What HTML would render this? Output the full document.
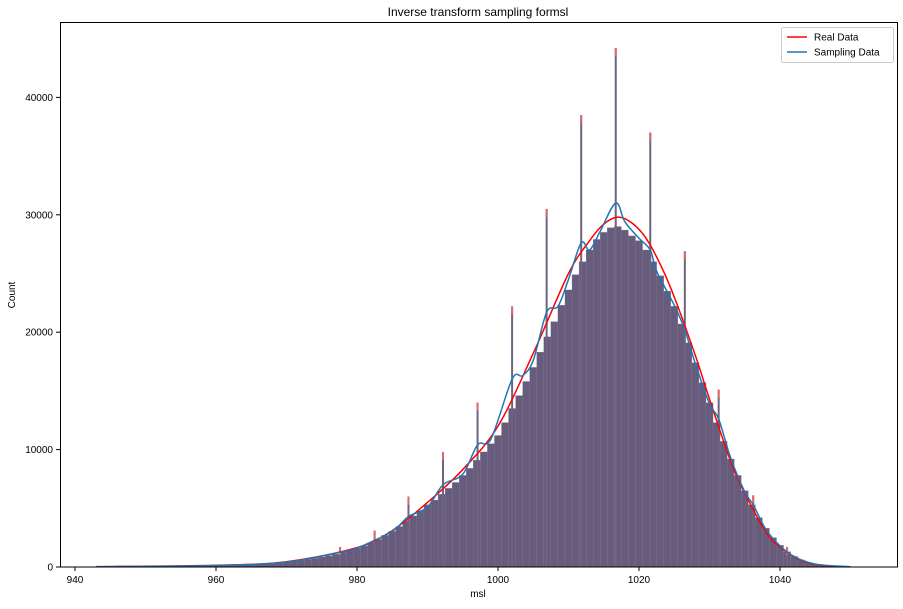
<!DOCTYPE html>
<html><head><meta charset="utf-8"><style>
body{margin:0;background:#fff;}
svg text{font-family:"Liberation Sans","DejaVu Sans",sans-serif;}
</style></head><body>
<svg id="chart" width="903" height="604" xmlns="http://www.w3.org/2000/svg">
<rect width="903" height="604" fill="#fff"/>
<text x="478" y="16" font-size="12" text-anchor="middle">Inverse transform sampling formsl</text>
<g id="bars"></g>
<g id="lines"></g>
<rect x="60.5" y="22.5" width="837" height="544.5" fill="none" stroke="#000" stroke-width="1"/>
<g id="axes"></g>
<text x="478" y="597" font-size="10" text-anchor="middle">msl</text>
<text x="15" y="295" font-size="10" text-anchor="middle" transform="rotate(-90 15 295)">Count</text>
<g>
<rect x="781.5" y="27.5" width="112" height="35" fill="#fff" stroke="#ccc" rx="2"/>
<line x1="787" y1="37" x2="807" y2="37" stroke="#ff0000" stroke-width="1.5"/>
<text x="814" y="40.5" font-size="10">Real Data</text>
<line x1="787" y1="52" x2="807" y2="52" stroke="#1f77b4" stroke-width="1.5"/>
<text x="814" y="55.5" font-size="10">Sampling Data</text>
</g>
</svg>
<script>
const binStart = 943;
const histCounts = [20,20,30,30,40,40,50,
50,60,60,70,70,80,90,100,110,120,
130,140,160,180,200,230,260,300,340,390,
420,480,560,640,740,850,970,1100,1250,1420,
1600,1800,2050,2350,2700,3050,3450,3900,4350,4800,
5300,5700,6200,6700,7200,7800,8400,9100,9800,10500,
11200,12300,13500,14600,15800,17000,18300,19600,20900,22300,
23600,24900,26000,27000,27900,28500,28900,29000,28700,28200,
27800,27000,26000,24800,23500,22200,20700,19100,17400,15700,
14000,12300,10700,9200,7800,6500,5300,4200,3300,2500,
1850,1300,900,600,380,230,140,80,50,30,15];
const spikeX = [977.6,982.5,987.3,992.2,997.1,1002,1006.9,1011.8,1016.7,1021.6,1026.5,1031.3,1036.2,1041];
const spikeY = [1700,3100,6000,9800,14000,22200,30500,38500,44200,37000,26900,15100,6100,1700];
const realX = [943,960,970,980,985,990,995,1000,1005,1010,1013,1015,1017,1019,1021,1023,1025,1028,1030,1033,1035,1038,1040,1043,1046,1050];
const realY = [30,150,450,1650,3100,5500,8300,12000,18200,25000,27800,29200,29800,29300,28000,25800,23000,18000,14300,9000,6300,3000,1700,550,130,20];
const sampX = [943,960,970,977.6,980,985,987.3,990,992.2,995,997.1,999,1002,1003.5,1005,1006.9,1008.5,1010,1011.8,1013,1014.5,1016.7,1018,1020,1021.6,1022.5,1025,1026.5,1028,1030,1031.3,1033,1035,1036.2,1038,1040,1042,1045,1050];
const sampY = [20,130,420,1250,1600,3050,4300,5100,7000,7900,10400,10900,16000,16300,17600,21700,22200,24500,27600,27000,28600,31000,29400,28000,27000,25200,22300,20200,17300,13900,12600,9300,6400,5300,3200,1800,900,250,20];
const xTicks = [940,960,980,1000,1020,1040];
const yTicks = [0,10000,20000,30000,40000];

const NS="http://www.w3.org/2000/svg";
const xs = v => 75 + (v-940)*7.05;
const ys = v => 567 - v*0.01174;
function mk(tag, attrs, parent){const e=document.createElementNS(NS,tag);for(const k in attrs)e.setAttribute(k,attrs[k]);parent.appendChild(e);return e;}
function smoothPath(px,py){
  const p=px.map((x,i)=>[xs(x),ys(py[i])]);
  let d='M'+p[0][0]+','+p[0][1];
  for(let i=0;i<p.length-1;i++){
    const p0=p[Math.max(0,i-1)],p1=p[i],p2=p[i+1],p3=p[Math.min(p.length-1,i+2)];
    const c1=[p1[0]+(p2[0]-p0[0])/6,p1[1]+(p2[1]-p0[1])/6];
    const c2=[p2[0]-(p3[0]-p1[0])/6,p2[1]-(p3[1]-p1[1])/6];
    d+=' C'+c1[0]+','+c1[1]+' '+c2[0]+','+c2[1]+' '+p2[0]+','+p2[1];
  }
  return d;
}
const bars=document.getElementById('bars');
histCounts.forEach((c,i)=>{
  const x0=xs(binStart+i-0.5), x1=xs(binStart+i+0.5);
  const r=mk('rect',{x:x0,y:ys(c),width:x1-x0,height:567-ys(c),fill:'#675c7b',stroke:'#7f7494','stroke-width':0.3},bars);
  
  
});
spikeX.forEach((sx,i)=>{
  const r=mk('rect',{x:xs(sx)-1,y:ys(spikeY[i]),width:2,height:567-ys(spikeY[i]),fill:'#6e6480'},bars);
  
  
  const t=mk('rect',{x:xs(sx)-1,y:ys(spikeY[i]),width:2,height:Math.min(8,567-ys(spikeY[i])),fill:'#e06a6a'},bars);
  
  
});
const lines=document.getElementById('lines');
const pr=mk('path',{d:smoothPath(realX,realY),fill:'none',stroke:'#ff0000','stroke-width':1.5},lines);


const ps=mk('path',{d:smoothPath(sampX,sampY),fill:'none',stroke:'#1f77b4','stroke-width':1.5},lines);


const axes=document.getElementById('axes');
xTicks.forEach(v=>{
  mk('line',{x1:xs(v),x2:xs(v),y1:567,y2:571,stroke:'#000'},axes);
  const t=mk('text',{x:xs(v),y:583,'font-size':10,'text-anchor':'middle'},axes);
  t.textContent=v;
  
  
});
yTicks.forEach(v=>{
  mk('line',{x1:56,x2:60,y1:ys(v),y2:ys(v),stroke:'#000'},axes);
  const t=mk('text',{x:53,y:ys(v)+3.5,'font-size':10,'text-anchor':'end'},axes);
  t.textContent=v;
  
  
});
</script>
</body></html>
